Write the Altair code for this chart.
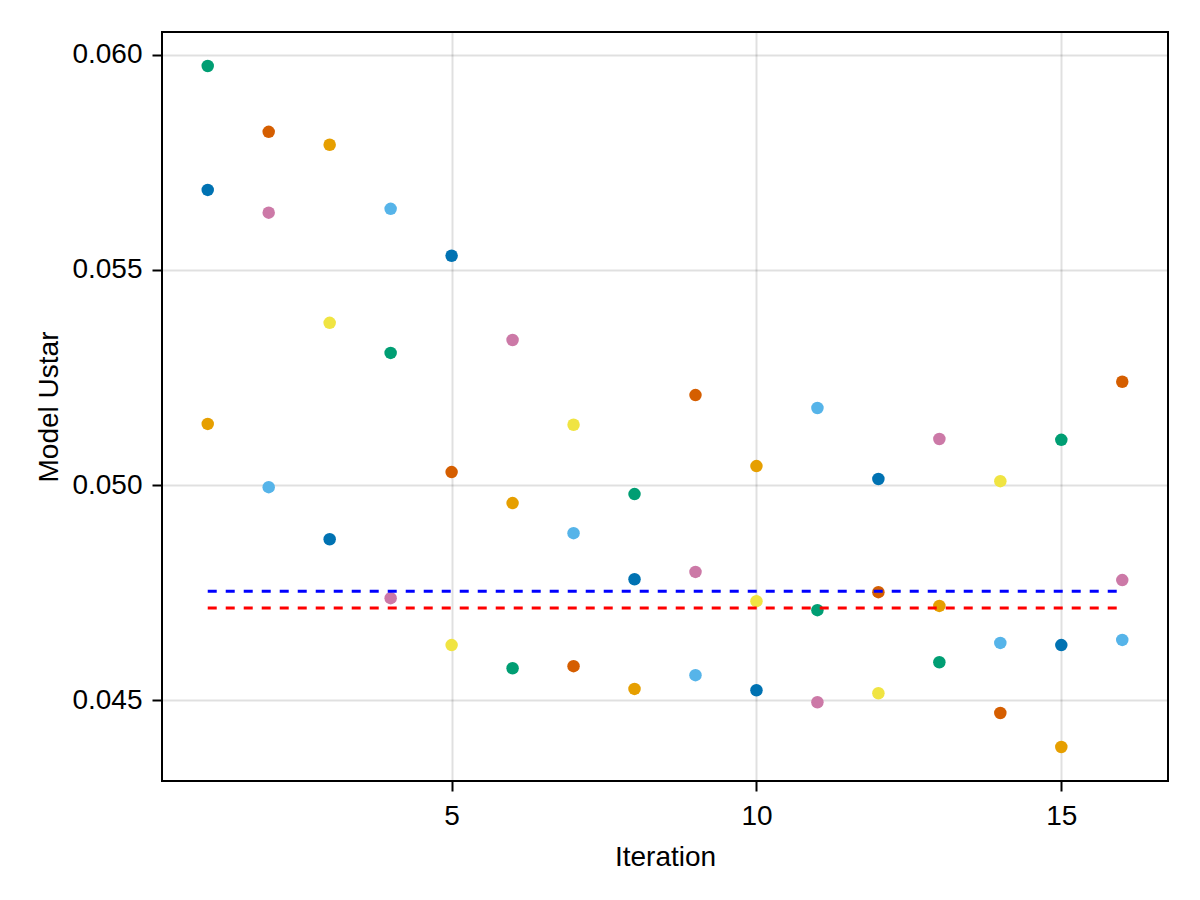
import altair as alt
import pandas as pd

iterations = [i for i in range(1, 17) for _ in range(3)]
ustar = [
    0.05686, 0.05142, 0.05974,
    0.05633, 0.04995, 0.05821,
    0.04874, 0.05791, 0.05377,
    0.05307, 0.04737, 0.05642,
    0.05533, 0.05030, 0.04628,
    0.05337, 0.04958, 0.04574,
    0.05140, 0.04888, 0.04579,
    0.04979, 0.04781, 0.04526,
    0.05209, 0.04798, 0.04558,
    0.05044, 0.04730, 0.04523,
    0.05179, 0.04709, 0.04495,
    0.05014, 0.04751, 0.04516,
    0.05107, 0.04719, 0.04588,
    0.05009, 0.04633, 0.04470,
    0.05105, 0.04628, 0.04391,
    0.05240, 0.04779, 0.04640,
]
point_colors = [
    "#0072B2", "#E69F00", "#009E73",
    "#CC79A7", "#56B4E9", "#D55E00",
    "#0072B2", "#E69F00", "#F0E442",
    "#009E73", "#CC79A7", "#56B4E9",
    "#0072B2", "#D55E00", "#F0E442",
    "#CC79A7", "#E69F00", "#009E73",
    "#F0E442", "#56B4E9", "#D55E00",
    "#009E73", "#0072B2", "#E69F00",
    "#D55E00", "#CC79A7", "#56B4E9",
    "#E69F00", "#F0E442", "#0072B2",
    "#56B4E9", "#009E73", "#CC79A7",
    "#0072B2", "#D55E00", "#F0E442",
    "#CC79A7", "#E69F00", "#009E73",
    "#F0E442", "#56B4E9", "#D55E00",
    "#009E73", "#0072B2", "#E69F00",
    "#D55E00", "#CC79A7", "#56B4E9",
]

ref_values = [0.04753, 0.04714]
ref_colors = ["#0000FF", "#FF0000"]
ref_start = [1, 1]
ref_end = [16, 16]

x_ticks = [5, 10, 15]
y_ticks = [0.045, 0.050, 0.055, 0.060]

pts = pd.DataFrame({"Iteration": iterations, "Ustar": ustar, "color": point_colors})
refs = pd.DataFrame({"Iteration": ref_start, "x2": ref_end, "Ustar": ref_values, "color": ref_colors})

FONT = "Liberation Sans"
FS = 28

xscale = alt.Scale(domain=[0.25, 16.75], nice=False, zero=False)
yscale = alt.Scale(domain=[0.04312, 0.06053], nice=False, zero=False)

xaxis = alt.Axis(
    title="Iteration", values=x_ticks, format="d",
    labelPadding=11,
    titleX=503, titleY=84, titleBaseline="alphabetic", titleAlign="center",
)
yaxis = alt.Axis(
    title="Model Ustar", values=y_ticks, format=".3f",
    labelPadding=10,
    titleX=-105, titleY=374.5, titleAngle=270, titleBaseline="alphabetic", titleAlign="center",
)

points = alt.Chart(pts).mark_circle(size=156, opacity=1).encode(
    x=alt.X("Iteration:Q", scale=xscale, axis=xaxis),
    y=alt.Y("Ustar:Q", scale=yscale, axis=yaxis),
    color=alt.Color("color:N", scale=None),
)

lines = alt.Chart(refs).mark_rule(strokeDash=[9, 9], strokeWidth=3).encode(
    x=alt.X("Iteration:Q", scale=xscale),
    x2="x2:Q",
    y=alt.Y("Ustar:Q", scale=yscale),
    color=alt.Color("color:N", scale=None),
)

chart = alt.layer(points, lines).properties(
    width=1006, height=749,
    autosize=alt.AutoSizeParams(type="none"),
    padding={"left": 154, "top": 24, "right": 24, "bottom": 103},
).configure(
    background="#FFFFFF"
).configure_view(
    stroke="#000000", strokeWidth=2
).configure_axis(
    grid=True, gridColor="#000000", gridOpacity=0.12, gridWidth=2,
    domain=False, ticks=True, tickSize=10, tickWidth=2, tickColor="#000000", tickOpacity=1,
    labelFont=FONT, labelFontSize=FS, labelColor="#000000",
    titleFont=FONT, titleFontSize=FS, titleFontWeight="normal", titleColor="#000000",
)

chart.save("out.html", embed_options={"renderer": "svg", "actions": False})
